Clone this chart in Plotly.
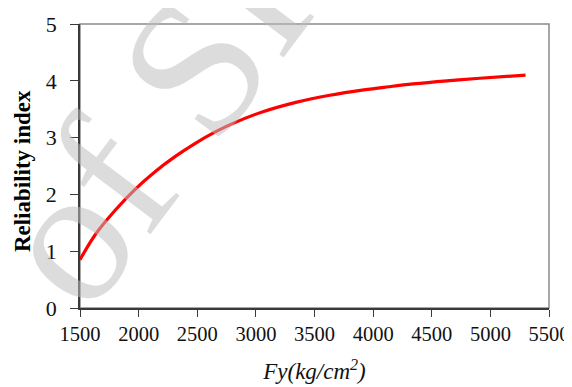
import plotly.graph_objects as go

# Data
fy = [1500, 1630, 1800, 1970, 2140, 2310, 2480, 2650, 2810, 3060, 3350,
      3630, 3920, 4130, 4340, 4630, 4910, 5300]
beta = [0.85, 1.29, 1.72, 2.09, 2.40, 2.665, 2.895, 3.095, 3.255, 3.455, 3.625,
        3.745, 3.84, 3.895, 3.945, 4.00, 4.045, 4.10]

x_ticks = [1500, 2000, 2500, 3000, 3500, 4000, 4500, 5000, 5500]
y_ticks = [0, 1, 2, 3, 4, 5]

serif = "Liberation Serif, Times New Roman, serif"

fig = go.Figure()
fig.add_trace(go.Scatter(
    x=fy, y=beta, mode="lines",
    line=dict(color="#ff0000", width=3.2, shape="spline", smoothing=1.0),
    showlegend=False, hoverinfo="skip",
))

# page body has an 8px margin, so the figure is sized to fill the 572x387 window
fig.update_layout(
    width=564, height=379,
    margin=dict(l=72, r=23, t=16, b=79),
    paper_bgcolor="white", plot_bgcolor="white",
    font=dict(family=serif, color="#111111", size=21),
    xaxis=dict(
        range=[1500, 5500], tickvals=x_ticks, ticktext=[str(v) for v in x_ticks],
        showgrid=False, zeroline=False, showline=True, linecolor="#3a3a3a", linewidth=1.5,
        ticks="outside", ticklen=7, tickcolor="#3a3a3a", tickwidth=1.3,
        tickfont=dict(family=serif, size=20.5, color="#111111"),
        automargin=False,
        title=dict(text="<i>Fy(kg/cm<sup>2</sup>)</i>", font=dict(family=serif, size=23, color="#111111"), standoff=19),
    ),
    yaxis=dict(
        range=[0, 5], tickvals=y_ticks, ticktext=[str(v) for v in y_ticks],
        showgrid=False, zeroline=False, showline=True, linecolor="#3a3a3a", linewidth=1.5,
        ticks="outside", ticklen=8, tickcolor="#3a3a3a", tickwidth=1.3,
        ticklabelstandoff=9,
        tickfont=dict(family=serif, size=22, color="#111111"),
        automargin=False,
    ),
    shapes=[dict(type="rect", xref="paper", yref="paper", x0=0, y0=0, x1=1, y1=1,
                 line=dict(color="#8a8a8a", width=1.5), layer="below")],
    annotations=[
        dict(text="<b>Reliability index</b>", xref="paper", yref="paper", x=0, y=0.482,
             xanchor="center", yanchor="middle", xshift=-58, showarrow=False, textangle=-90,
             font=dict(family=serif, size=23, color="#000000")),
        dict(text="of SID", xref="paper", yref="paper", x=0.24, y=0.84,
             xanchor="center", yanchor="middle", showarrow=False, textangle=-53,
             font=dict(family=serif, size=195, color="rgba(189,189,189,0.53)")),
    ],
)

fig.write_html("out.html")
